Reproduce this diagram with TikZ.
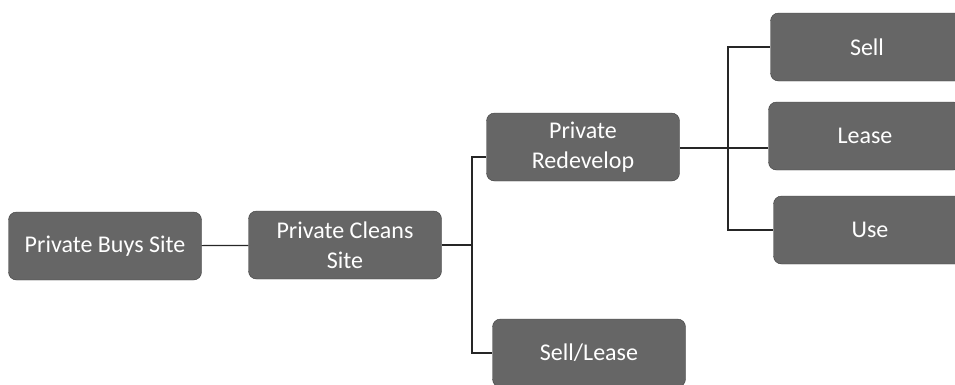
\documentclass[tikz,border=0pt]{standalone}
\usepackage{fontspec}
\setmainfont{Carlito}
\usepackage{tikz}

\begin{document}
\begin{tikzpicture}[x=1pt, y=1pt,
    stage/.style={rectangle, rounded corners=8pt, draw=black!75, fill=black!60,
      text=white, minimum width=193pt, minimum height=68pt, align=center,
      font=\fontsize{24}{30}\selectfont, inner sep=2pt},
    link/.style={draw=black!85, line width=1.2pt}]
  \useasboundingbox (0,0) rectangle (955,-384);

  % Stages
  \node[stage] (buys) at (105,-246) {Private Buys Site};
  \node[stage] (cleans) at (345,-245) {Private Cleans\\Site};
  \node[stage] (redev) at (583,-147) {Private\\Redevelop};
  \node[stage] (selllease) at (589,-353) {Sell/Lease};

  % Outcomes
  \node[stage] (sell) at (867,-47) {Sell};
  \node[stage] (lease) at (865,-136) {Lease};
  \node[stage] (use) at (870,-230) {Use};

  % Branch points
  \coordinate (split-1) at (472,-245);
  \coordinate (split-2) at (728,-148);

  % Connect stages
  \draw[link] (buys) -- (cleans);
  \draw[link] (cleans) -- (split-1) |- ([yshift=-10pt]redev.west);
  \draw[link] (split-1) |- (selllease.west);

  % Connect outcomes
  \draw[link] (redev.east |- split-2) -- (split-2) -- (split-2 -| lease.west);
  \draw[link] (split-2) |- (sell.west);
  \draw[link] (split-2) |- (use.west);
\end{tikzpicture}
\end{document}
